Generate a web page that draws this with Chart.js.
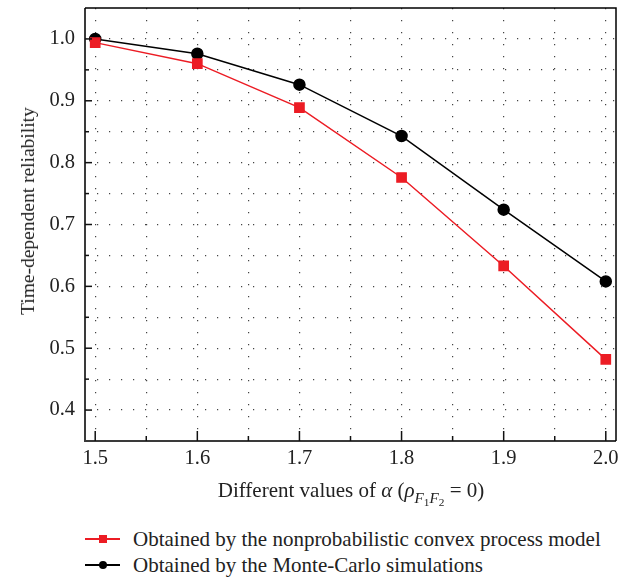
<!DOCTYPE html>
<html lang="en">
<head>
  <meta charset="UTF-8" />
  <title>Time-dependent reliability</title>
  <style>
    *, html {
      margin: 0;
      padding: 0;
      box-sizing: border-box;
    }

    body {
      background: #fff;
      width: 636px;
      height: 577px;
      overflow: hidden;
      font-family: 'Liberation Serif', 'DejaVu Serif', serif;
      color: #222;
    }

    .layout {
      position: relative;
      width: 636px;
      height: 577px;
    }

    .kotak-grafik {
      position: absolute;
      left: 0;
      top: 0;
      width: 636px;
      height: 480px;
    }

    .judul-y {
      position: absolute;
      left: 28px;
      top: 211px;
      transform: translate(-50%, -50%) rotate(-90deg);
      white-space: nowrap;
      font-size: 19.5px;
    }

    .judul-x {
      position: absolute;
      left: 351px;
      top: 478px;
      transform: translateX(-50%);
      white-space: nowrap;
      font-size: 21px;
    }

    .judul-x sub {
      font-size: 0.72em;
      vertical-align: -0.4em;
      line-height: 0;
    }

    .judul-x sub sub {
      font-size: 0.75em;
      vertical-align: -0.3em;
    }

    .legenda {
      position: absolute;
      left: 85px;
      top: 526px;
    }

    .baris {
      display: flex;
      align-items: center;
      height: 26px;
      font-size: 21px;
      white-space: nowrap;
    }

    .kunci {
      position: relative;
      width: 35px;
      height: 1.5px;
      margin-right: 13px;
    }

    .kunci span {
      position: absolute;
      left: 50%;
      top: 50%;
      width: 8px;
      height: 8px;
      transform: translate(-50%, -50%);
    }
  </style>
</head>
<body>
  <div class="layout">
    <div class="kotak-grafik"><canvas id="grafik"></canvas></div>
    <div class="judul-y">Time-dependent reliability</div>
    <div class="judul-x">Different values of <i>α</i> (<i>ρ</i><sub><i>F</i><sub>1</sub><i>F</i><sub>2</sub></sub> = 0)</div>
    <div class="legenda">
      <div class="baris">
        <div class="kunci" style="background:#ec1c24;"><span style="background:#ec1c24;"></span></div>
        Obtained by the nonprobabilistic convex process model
      </div>
      <div class="baris">
        <div class="kunci" style="background:#000;"><span style="background:#000; border-radius:50%;"></span></div>
        Obtained by the Monte-Carlo simulations
      </div>
    </div>
  </div>

  <script src="https://cdn.jsdelivr.net/npm/chart.js"></script>
  <script>
    // data
    const nilaiAlpha = [1.5, 1.6, 1.7, 1.8, 1.9, 2.0];
    const modelKonveks = [0.994, 0.960, 0.889, 0.776, 0.633, 0.482];
    const monteCarlo = [1.000, 0.976, 0.926, 0.843, 0.724, 0.608];
    const labelX = ['1.5', '1.6', '1.7', '1.8', '1.9', '2.0'];
    const labelY = ['0.4', '0.5', '0.6', '0.7', '0.8', '0.9', '1.0'];

    const merah = '#ec1c24';
    const hitam = '#000000';

    const titik = (ys) => nilaiAlpha.map((x, i) => ({ x: x, y: ys[i] }));
    const jadiLabel = (v, daftar) => {
      const s = (Math.round(v * 100) / 100).toFixed(1);
      return (Math.round(v * 100) % 10 === 0 && daftar.includes(s)) ? s : '';
    };

    // bingkai + tick ke dalam
    const bingkai = {
      id: 'bingkai',
      afterDraw(chart) {
        const { ctx, chartArea: a, scales } = chart;
        ctx.save();
        ctx.strokeStyle = '#3a3a3a';
        ctx.lineWidth = 2;
        ctx.beginPath();
        ctx.moveTo(a.left, a.top);
        ctx.lineTo(a.left, a.bottom);
        ctx.lineTo(a.right, a.bottom);
        ctx.stroke();
        ctx.strokeStyle = '#000';
        ctx.lineWidth = 1.5;
        ctx.beginPath();
        ctx.moveTo(a.left, a.top);
        ctx.lineTo(a.right, a.top);
        ctx.lineTo(a.right, a.bottom);
        ctx.stroke();

        ctx.lineWidth = 1.5;
        ctx.strokeStyle = '#111';
        scales.x.ticks.forEach(t => {
          const px = scales.x.getPixelForValue(t.value);
          const besar = Math.round(t.value * 100) % 10 === 0;
          ctx.beginPath();
          ctx.moveTo(px, a.bottom);
          ctx.lineTo(px, a.bottom - (besar ? 10 : 5));
          ctx.stroke();
        });
        scales.y.ticks.forEach(t => {
          const py = scales.y.getPixelForValue(t.value);
          if (py <= a.top + 1 || py >= a.bottom - 1) return;
          const besar = Math.round(t.value * 100) % 10 === 0;
          ctx.beginPath();
          ctx.moveTo(a.left, py);
          ctx.lineTo(a.left + (besar ? 7 : 4), py);
          ctx.stroke();
        });
        ctx.restore();
      }
    };

    const fontTick = { family: "'Liberation Serif', 'DejaVu Serif', serif", size: 20.5 };

    new Chart(document.getElementById('grafik'), {
      type: 'line',
      data: {
        datasets: [
          {
            label: 'Obtained by the nonprobabilistic convex process model',
            data: titik(modelKonveks),
            borderColor: merah,
            backgroundColor: merah,
            borderWidth: 1.5,
            pointStyle: 'rect',
            pointRadius: 6.5,
            pointHoverRadius: 6.5,
            tension: 0
          },
          {
            label: 'Obtained by the Monte-Carlo simulations',
            data: titik(monteCarlo),
            borderColor: hitam,
            backgroundColor: hitam,
            borderWidth: 1.5,
            pointStyle: 'circle',
            pointRadius: 5.5,
            pointHoverRadius: 5.5,
            tension: 0
          }
        ]
      },
      options: {
        responsive: true,
        maintainAspectRatio: false,
        animation: false,
        layout: { padding: { top: 8, right: 20, left: 0, bottom: 0 } },
        plugins: {
          legend: { display: false },
          tooltip: { enabled: false }
        },
        scales: {
          x: {
            type: 'linear',
            min: 1.49,
            max: 2.01,
            afterFit(s) { s.height = 39; s.paddingLeft = 0; s.paddingRight = 0; },
            ticks: {
              stepSize: 0.05,
              includeBounds: false,
              autoSkip: false,
              maxRotation: 0,
              padding: 5,
              color: '#222',
              font: fontTick,
              callback: (v) => jadiLabel(v, labelX)
            },
            grid: { color: '#444', lineWidth: 1.2, drawTicks: false },
            border: { display: false, dash: [1.2, 10.8] }
          },
          y: {
            min: 0.35,
            max: 1.05,
            afterFit(s) { s.width = 85; s.paddingTop = 0; s.paddingBottom = 0; },
            ticks: {
              stepSize: 0.05,
              autoSkip: false,
              padding: 10,
              color: '#222',
              font: fontTick,
              callback: (v) => jadiLabel(v, labelY)
            },
            grid: {
              color: (c) => (c.tick && (c.tick.value < 0.36 || c.tick.value > 1.04)) ? 'rgba(0,0,0,0)' : '#444',
              lineWidth: 1.2,
              drawTicks: false
            },
            border: { display: false, dash: [1.2, 10.8] }
          }
        }
      },
      plugins: [bingkai]
    });
  </script>
</body>
</html>
